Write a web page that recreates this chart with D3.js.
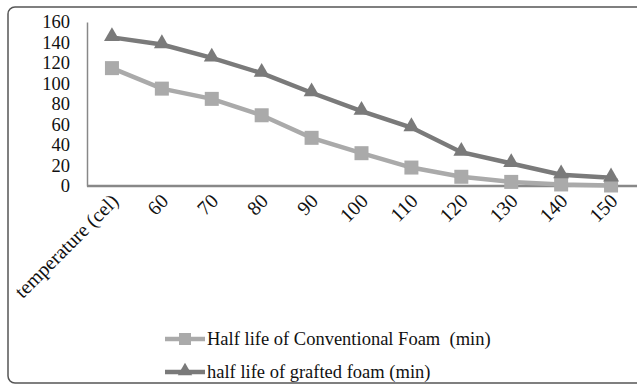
<!DOCTYPE html>
<html>
<head>
<meta charset="utf-8">
<script src="https://cdn.jsdelivr.net/npm/d3@7"></script>
<style>
  body { margin: 0; background: #fff; }
  svg { display: block; font-family: "Liberation Serif", serif; }
</style>
</head>
<body>
<div id="chart"></div>
<script>
// categories on the x axis
const categories = ["temperature (cel)", "60", "70", "80", "90", "100", "110", "120", "130", "140", "150"];
// half life values (min)
const conventional = [115, 95, 85, 69, 47, 32, 18, 9, 4, 1.5, 0.5];
const grafted = [145, 138, 125, 110, 91, 73, 57, 33, 22, 11, 8];
const yTicks = [0, 20, 40, 60, 80, 100, 120, 140, 160];
const seriesNames = ["Half life of Conventional Foam  (min)", "half life of grafted foam (min)"];

const W = 637, H = 386;
const margin = {top: 22, left: 87, right: 1, bottom: 200};

const svg = d3.select("#chart").append("svg")
    .attr("width", W)
    .attr("height", H);

// outer frame
svg.append("rect")
    .attr("x", 8).attr("y", 7)
    .attr("width", 660).attr("height", 376)
    .attr("rx", 7)
    .attr("fill", "none")
    .attr("stroke", "#555")
    .attr("stroke-width", 1.5);

let x = d3.scalePoint()
    .domain(categories)
    .range([margin.left, W - margin.right])
    .padding(0.5);

let y = d3.scaleLinear()
    .domain([0, 160])
    .range([186, margin.top]);

// y axis
let yAxis = d3.axisLeft(y).tickValues(yTicks).tickSize(0).tickPadding(17);
let gy = svg.append("g").attr("transform", `translate(${margin.left},0)`).call(yAxis);
gy.select(".domain").attr("stroke", "#888").attr("stroke-width", 1.5);
gy.selectAll("text").attr("font-size", 18.5).attr("fill", "#111")
    .attr("font-family", "Liberation Serif, serif");

// x axis
let xAxis = d3.axisBottom(x).tickSize(0).tickPadding(0);
let gx = svg.append("g").attr("transform", `translate(0,${y(0)})`).call(xAxis);
gx.select(".domain").attr("stroke", "#888").attr("stroke-width", 2.5)
    .attr("d", `M${margin.left},0H${W}`);
gx.selectAll("text")
    .attr("font-size", 20).attr("fill", "#111")
    .attr("font-family", "Liberation Serif, serif")
    .attr("text-anchor", "end")
    .attr("dy", "0.3em")
    .attr("transform", "translate(3,12) rotate(-45)");

const colors = ["#aaaaaa", "#7a7a7a"];
const data = [conventional, grafted];

let line = d3.line()
    .x((d, i) => x(categories[i]))
    .y(d => y(d));

data.forEach((vals, s) => {
    svg.append("path")
        .datum(vals)
        .attr("d", line)
        .attr("fill", "none")
        .attr("stroke", colors[s])
        .attr("stroke-width", 4.5);
});

// markers
svg.selectAll(".sq")
    .data(conventional)
    .enter().append("rect")
    .attr("class", "sq")
    .attr("x", (d, i) => x(categories[i]) - 7)
    .attr("y", d => y(d) - 7)
    .attr("width", 14).attr("height", 14)
    .attr("fill", colors[0]);

let tri = d3.symbol().type(d3.symbolTriangle).size(110);
svg.selectAll(".tri")
    .data(grafted)
    .enter().append("path")
    .attr("class", "tri")
    .attr("d", tri)
    .attr("transform", (d, i) => `translate(${x(categories[i])},${y(d) - 1})`)
    .attr("fill", colors[1]);

// legend
let legend = svg.append("g").attr("transform", "translate(165,339)");
seriesNames.forEach((name, s) => {
    let g = legend.append("g").attr("transform", `translate(0,${s * 33})`);
    g.append("line").attr("x1", 0).attr("x2", 40).attr("y1", 0).attr("y2", 0)
        .attr("stroke", colors[s]).attr("stroke-width", 4.5);
    if (s === 0) {
        g.append("rect").attr("x", 14).attr("y", -6).attr("width", 12).attr("height", 12)
            .attr("fill", colors[s]);
    } else {
        g.append("path").attr("d", d3.symbol().type(d3.symbolTriangle).size(90))
            .attr("transform", "translate(20,-1)").attr("fill", colors[s]);
    }
    g.append("text").attr("x", 42).attr("y", 0).attr("dy", "0.35em")
        .attr("font-size", 18.5).attr("fill", "#111")
        .style("white-space", "pre")
        .text(name);
});
</script>
</body>
</html>
